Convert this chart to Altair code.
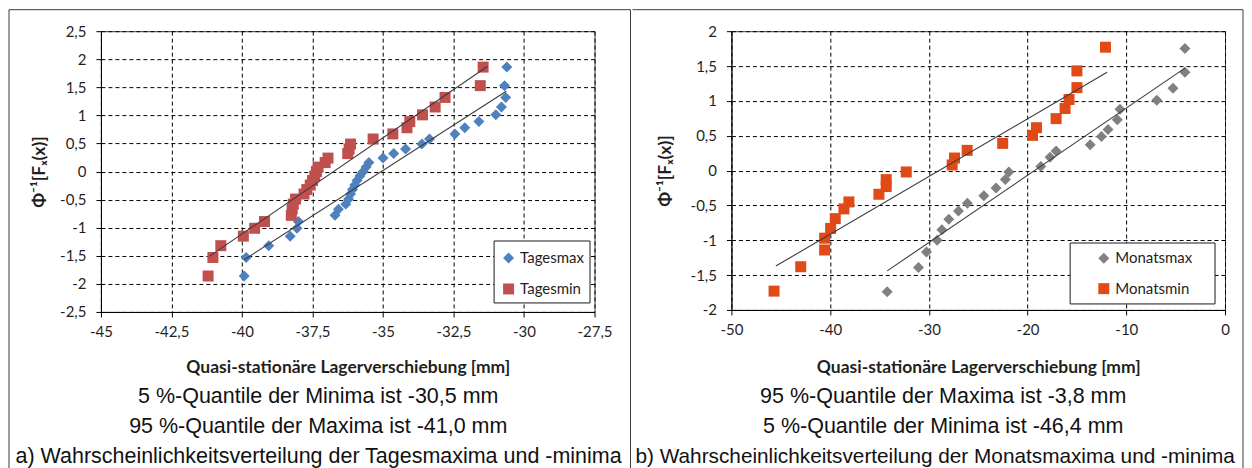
import altair as alt
import pandas as pd

# ---------------- data ----------------
# Panel a) daily extremes
tagesmax_x = [-39.92, -39.85, -39.05, -38.29, -38.05, -38.0, -36.7, -36.58, -36.32, -36.22,
              -36.15, -36.08, -36.0, -35.92, -35.82, -35.7, -35.6, -35.5, -35.0, -34.62,
              -34.2, -33.62, -33.35, -32.45, -32.1, -31.6, -31.0, -30.8, -30.65, -30.69, -30.61]
tagesmax_y = [-1.86, -1.53, -1.32, -1.15, -1.01, -0.89, -0.78, -0.67, -0.58, -0.49,
              -0.40, -0.32, -0.24, -0.16, -0.08, 0.0, 0.08, 0.16, 0.24, 0.32,
              0.40, 0.49, 0.58, 0.67, 0.78, 0.89, 1.01, 1.15, 1.32, 1.53, 1.86]
tagesmin_x = [-41.2, -41.03, -40.75, -39.95, -39.55, -39.2, -38.25, -38.22, -38.18, -38.1,
              -37.8, -37.7, -37.58, -37.5, -37.42, -37.36, -37.3, -37.05, -36.95, -36.25,
              -36.2, -36.15, -35.35, -34.65, -34.15, -34.05, -33.6, -33.15, -32.8, -31.55, -31.45]
tagesmin_y = [-1.86, -1.53, -1.32, -1.15, -1.01, -0.89, -0.78, -0.67, -0.58, -0.49,
              -0.40, -0.32, -0.24, -0.16, -0.08, 0.0, 0.08, 0.16, 0.24, 0.32,
              0.40, 0.49, 0.58, 0.67, 0.78, 0.89, 1.01, 1.15, 1.32, 1.53, 1.86]
trend_tmax_x = [-39.92, -30.63]
trend_tmax_y = [-1.57, 1.43]
trend_tmin_x = [-41.16, -31.3]
trend_tmin_y = [-1.51, 1.87]

# Panel b) monthly extremes
monatsmax_x = [-34.22, -31.05, -30.24, -29.16, -28.68, -27.98, -27.0, -26.1, -24.43, -23.19,
               -22.25, -21.9, -18.66, -17.72, -17.11, -13.66, -12.52, -11.85, -10.91, -10.64,
               -6.91, -5.27, -4.06, -4.06]
monatsmax_y = [-1.74, -1.39, -1.17, -1.0, -0.85, -0.70, -0.58, -0.47, -0.36, -0.25,
               -0.13, -0.02, 0.06, 0.19, 0.28, 0.37, 0.49, 0.59, 0.73, 0.88,
               1.01, 1.18, 1.41, 1.75]
monatsmin_x = [-45.68, -42.98, -40.56, -40.56, -39.95, -39.48, -38.6, -38.1, -35.06, -34.32,
               -34.32, -32.29, -27.64, -27.4, -26.12, -22.52, -19.5, -19.1, -17.11, -16.2,
               -15.8, -15.0, -15.0, -12.11]
monatsmin_y = [-1.73, -1.38, -1.14, -0.97, -0.83, -0.69, -0.55, -0.45, -0.34, -0.23,
               -0.13, -0.02, 0.08, 0.18, 0.29, 0.39, 0.505, 0.615, 0.745, 0.89,
               1.02, 1.19, 1.43, 1.77]
trend_mmax_x = [-34.22, -4.06]
trend_mmax_y = [-1.44, 1.47]
trend_mmin_x = [-45.5, -11.95]
trend_mmin_y = [-1.37, 1.41]

series_a = ["Tagesmax", "Tagesmin"]
series_b = ["Monatsmax", "Monatsmin"]

x_ticks_a = [-45, -42.5, -40, -37.5, -35, -32.5, -30, -27.5]
y_ticks_a = [-2.5, -2, -1.5, -1, -0.5, 0, 0.5, 1, 1.5, 2, 2.5]
x_ticks_b = [-50, -40, -30, -20, -10, 0]
y_ticks_b = [-2, -1.5, -1, -0.5, 0, 0.5, 1, 1.5, 2]

x_title = "Quasi-stationäre Lagerverschiebung [mm]"
y_title = "Φ⁻¹[Fₓ(x)]"

captions_a = ["5 %-Quantile der Minima ist -30,5 mm",
              "95 %-Quantile der Maxima ist -41,0 mm",
              "a) Wahrscheinlichkeitsverteilung der Tagesmaxima und -minima"]
captions_b = ["95 %-Quantile der Maxima ist -3,8 mm",
              "5 %-Quantile der Minima ist -46,4 mm",
              "b) Wahrscheinlichkeitsverteilung der Monatsmaxima und -minima"]

# ---------------- styling ----------------
LABEL_EXPR = "replace(toString(datum.value), '.', ',')"
TXT = "#1f1f1f"
ONE = pd.DataFrame({"k": [0]})


def axis(values, title, title_x, title_y, label_pad):
    return alt.Axis(values=values, labelExpr=LABEL_EXPR, grid=True, gridDash=[4, 3],
                    gridColor="#000000", gridWidth=1, gridOpacity=1,
                    tickSize=5, tickColor="#000000", domainColor="#000000", domainWidth=1,
                    labelFont="Lato", labelFontSize=15, labelColor=TXT, labelPadding=label_pad,
                    labelFlush=False, labelOverlap=False,
                    title=title, titleFont="Lato", titleFontWeight="bold", titleFontSize=17.5,
                    titleColor=TXT, titleX=title_x, titleY=title_y,
                    titleAlign="center", titleBaseline="middle")


def panel(sx, sy, series, colors, shapes, tx, ty, xdom, xticks, ydom, yticks, W, H,
          ytitle_x, xtitle_y, legend_xy, legend_row, box, cell, top_right_rules,
          captions, cap_pos):
    pts = pd.DataFrame({
        "x": sx[0] + sx[1],
        "y": sy[0] + sy[1],
        "series": [series[0]] * len(sx[0]) + [series[1]] * len(sx[1]),
    })
    trend = pd.DataFrame({
        "x": tx[0] + tx[1],
        "y": ty[0] + ty[1],
        "series": [series[0]] * len(tx[0]) + [series[1]] * len(tx[1]),
    })
    xs = alt.Scale(domain=xdom, nice=False, zero=False)
    ys = alt.Scale(domain=ydom, nice=False, zero=False)
    ax_x = axis(xticks, x_title, W / 2, xtitle_y, 8)
    ax_y = axis(yticks, y_title, ytitle_x, H / 2, 10)
    leg = alt.Legend(orient="none", legendX=legend_xy[0], legendY=legend_xy[1], title=None,
                     padding=0, labelFont="Lato", labelFontSize=15, labelColor=TXT,
                     labelOffset=4, symbolSize=121, symbolStrokeWidth=0,
                     rowPadding=legend_row)

    # cell frame
    if cell["visible"]:
        frame = alt.Chart(ONE).mark_rect(filled=False, stroke="#3a3a3a", strokeWidth=1).encode(
            x=alt.value(cell["x"][0]), x2=alt.value(cell["x"][1]),
            y=alt.value(cell["y"][0]), y2=alt.value(cell["y"][1]))
    else:
        frame = alt.Chart(ONE).mark_rect(fill="#ffffff", fillOpacity=0, strokeWidth=0).encode(
            x=alt.value(cell["x"][0]), x2=alt.value(cell["x"][1]),
            y=alt.value(cell["y"][0]), y2=alt.value(cell["y"][1]))
    layers = [frame]
    for r in top_right_rules:
        layers.append(alt.Chart(ONE).mark_rule(color="#3a3a3a", strokeWidth=1).encode(
            x=alt.value(r[0]), x2=alt.value(r[1]), y=alt.value(r[2]), y2=alt.value(r[3])))

    points = alt.Chart(pts).mark_point(filled=True, opacity=1, strokeWidth=0, size=121).encode(
        x=alt.X("x:Q", scale=xs, axis=ax_x),
        y=alt.Y("y:Q", scale=ys, axis=ax_y),
        color=alt.Color("series:N", scale=alt.Scale(domain=series, range=colors), legend=leg),
        shape=alt.Shape("series:N", scale=alt.Scale(domain=series, range=shapes), legend=leg),
    )
    lines = alt.Chart(trend).mark_line(color="#3c3c3c", strokeWidth=1.1).encode(
        x=alt.X("x:Q", scale=xs, axis=ax_x), y=alt.Y("y:Q", scale=ys, axis=ax_y),
        detail="series:N")
    legbox = alt.Chart(ONE).mark_rect(fill="#ffffff", stroke="#1a1a1a", strokeWidth=1).encode(
        x=alt.value(box[0]), x2=alt.value(box[1]), y=alt.value(box[2]), y2=alt.value(box[3]))
    layers += [points, lines, legbox]

    for i, (px, py, al, fs) in enumerate(cap_pos):
        cdf = pd.DataFrame({"t": [captions[i]]})
        layers.append(alt.Chart(cdf).mark_text(font="Liberation Sans", fontSize=fs, color="#111111",
                                               align=al, baseline="middle").encode(
            text="t:N", x=alt.value(px), y=alt.value(py)))
    return alt.layer(*layers).properties(width=W, height=H)


left = panel(
    (tagesmax_x, tagesmin_x), (tagesmax_y, tagesmin_y), series_a,
    ["#4F81BD", "#C0504D"], ["diamond", "square"],
    (trend_tmax_x, trend_tmin_x), (trend_tmax_y, trend_tmin_y),
    [-45, -27.5], x_ticks_a, [-2.5, 2.5], y_ticks_a, 494, 281,
    -61, 56, (400.5, 219.5), 15, (393.5, 489.5, 210, 272),
    {"visible": True, "x": (-92, 530), "y": (-21.5, 448.5)}, [],
    captions_a, [(217.5, 366, "center", 21.5), (217.5, 396, "center", 21.5),
                 (-85.5, 426, "left", 21.5)],
)

right = panel(
    (monatsmax_x, monatsmin_x), (monatsmax_y, monatsmin_y), series_b,
    ["#808080", "#DF4A16"], ["diamond", "square"],
    (trend_mmax_x, trend_mmin_x), (trend_mmax_y, trend_mmin_y),
    [-50, 0], x_ticks_b, [-2, 2], y_ticks_b, 494, 279,
    -66, 58, (365.2, 219.8), 14.4, (339, 484, 212, 273),
    {"visible": False, "x": (-99, 512.5), "y": (-22, 448.5)},
    [(-99, 512, -21.5, -21.5), (512, 512, -21.5, 448.5)],
    captions_b, [(212, 366, "center", 21.5), (212, 396, "center", 21.5),
                 (-96, 426, "left", 20.8)],
)

chart = alt.hconcat(left, right, spacing=0).resolve_scale(
    color="independent", shape="independent").resolve_legend(
    color="independent", shape="independent").properties(padding=0).configure_view(
    stroke="#404040", strokeWidth=1).configure_concat(spacing=0)

chart.save("out.html", embed_options={"renderer": "svg", "actions": False})
